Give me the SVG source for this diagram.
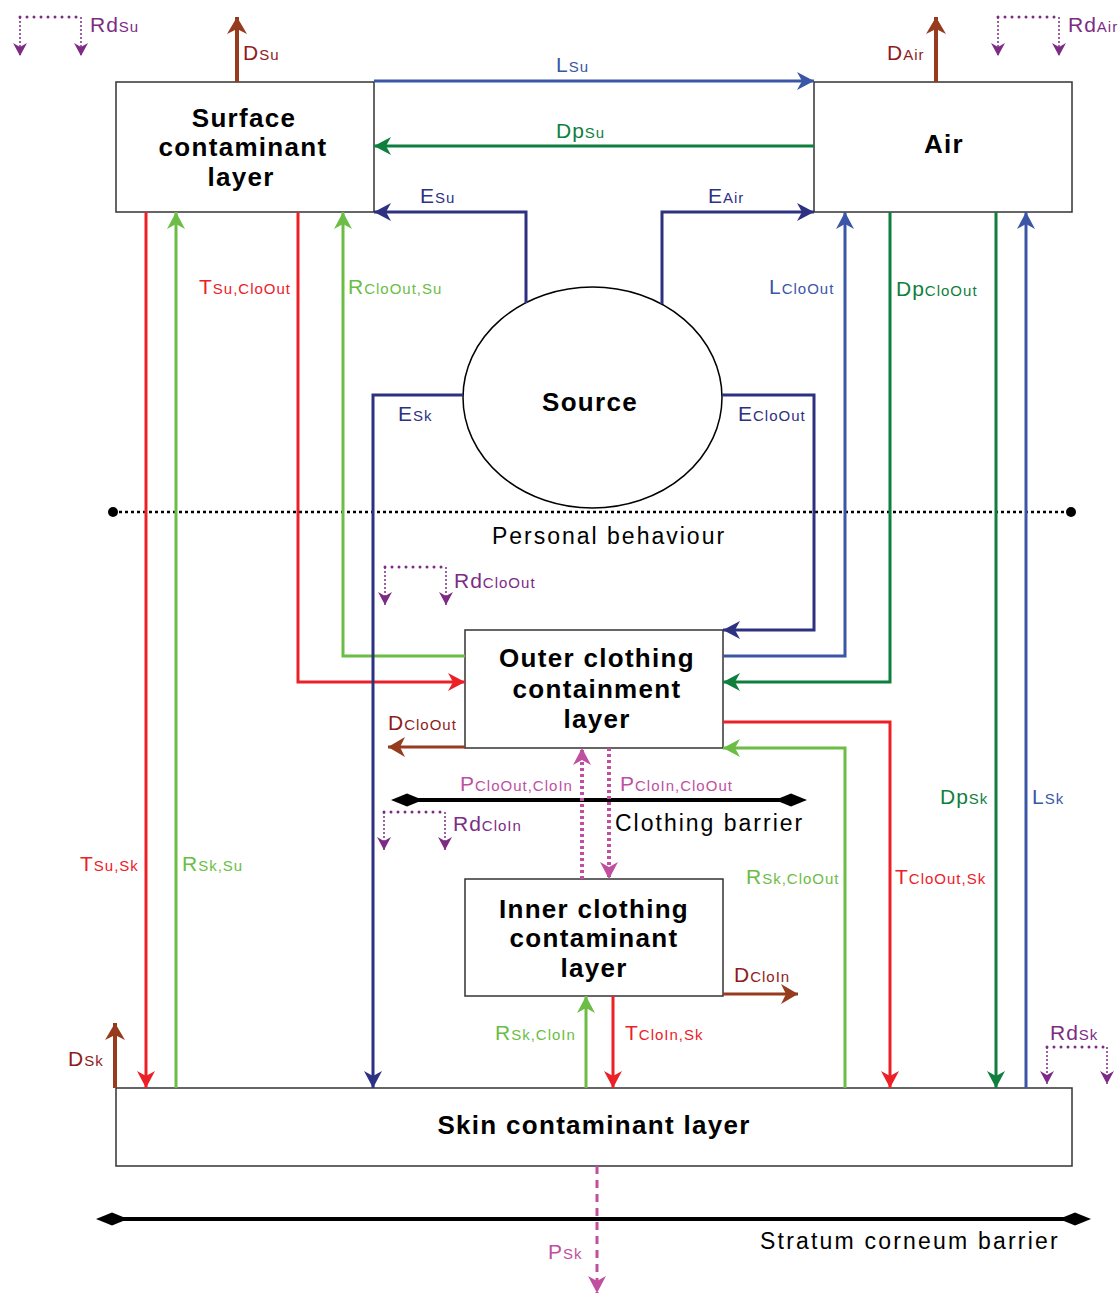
<svg xmlns="http://www.w3.org/2000/svg" width="1120" height="1295" viewBox="0 0 1120 1295">
<style>
.box{fill:#fff;stroke:#333;stroke-width:1.5}
.nt{font-family:"Liberation Sans",Arial,sans-serif;font-weight:bold;font-size:26px;letter-spacing:1.3px;fill:#000;text-anchor:middle}
.lb{font-family:"Liberation Sans",Arial,sans-serif;font-size:21px;letter-spacing:1px}
.lb tspan.s{font-size:15px}
.c{fill:none;stroke-width:3}
.navy{stroke:#2e3182}.blue{stroke:#3b56a6}.dg{stroke:#0f7f3d}.lg{stroke:#6bbd45}.red{stroke:#ec2027}.br{stroke:#963b1e;stroke-width:4}
.pk{stroke:#c0509f;stroke-width:4;stroke-dasharray:3 3}
.tnavy{fill:#2e3182}.tblue{fill:#3b56a6}.tdg{fill:#0f7f3d}.tlg{fill:#6bbd45}.tred{fill:#ec2027}.tbr{fill:#8e1c1c}.tpu{fill:#7d2b85}.tpk{fill:#c0509f}
.rdt{fill:none;stroke:#7d2b85;stroke-width:3;stroke-linecap:round;stroke-dasharray:0 7}
.rdv{fill:none;stroke:#7d2b85;stroke-width:1.5;stroke-dasharray:2 2}
.plain{font-family:"Liberation Sans",Arial,sans-serif;font-size:23px;fill:#000;letter-spacing:2px}
</style>
<defs>
<marker id="aN" viewBox="-18 -10 19 20" refX="0" refY="0" markerWidth="19" markerHeight="20" markerUnits="userSpaceOnUse" orient="auto"><path d="M0,0 L-17,-9 L-12,0 L-17,9 z" fill="#2e3182"/></marker>
<marker id="aB" viewBox="-18 -10 19 20" refX="0" refY="0" markerWidth="19" markerHeight="20" markerUnits="userSpaceOnUse" orient="auto"><path d="M0,0 L-17,-9 L-12,0 L-17,9 z" fill="#3b56a6"/></marker>
<marker id="aDG" viewBox="-18 -10 19 20" refX="0" refY="0" markerWidth="19" markerHeight="20" markerUnits="userSpaceOnUse" orient="auto"><path d="M0,0 L-17,-9 L-12,0 L-17,9 z" fill="#0f7f3d"/></marker>
<marker id="aLG" viewBox="-18 -10 19 20" refX="0" refY="0" markerWidth="19" markerHeight="20" markerUnits="userSpaceOnUse" orient="auto"><path d="M0,0 L-17,-9 L-12,0 L-17,9 z" fill="#6bbd45"/></marker>
<marker id="aR" viewBox="-18 -10 19 20" refX="0" refY="0" markerWidth="19" markerHeight="20" markerUnits="userSpaceOnUse" orient="auto"><path d="M0,0 L-17,-9 L-12,0 L-17,9 z" fill="#ec2027"/></marker>
<marker id="aBr" viewBox="-18 -11 19 22" refX="0" refY="0" markerWidth="19" markerHeight="22" markerUnits="userSpaceOnUse" orient="auto"><path d="M0,0 L-17,-10 L-12,0 L-17,10 z" fill="#963b1e"/></marker>
<marker id="aPk" viewBox="-18 -10 19 20" refX="0" refY="0" markerWidth="19" markerHeight="20" markerUnits="userSpaceOnUse" orient="auto"><path d="M0,0 L-17,-9 L-12,0 L-17,9 z" fill="#c0509f"/></marker>
<marker id="aPu" viewBox="-14 -8 15 16" refX="0" refY="0" markerWidth="15" markerHeight="16" markerUnits="userSpaceOnUse" orient="auto"><path d="M0,0 L-13,-7 L-9,0 L-13,7 z" fill="#7d2b85"/></marker>
<marker id="dia" viewBox="-17 -7 34 14" refX="0" refY="0" markerWidth="34" markerHeight="14" markerUnits="userSpaceOnUse" orient="auto"><path d="M-16,0 L0,-6.5 L16,0 L0,6.5 z" fill="#000"/></marker>
</defs>
<rect width="1120" height="1295" fill="#fff"/>

<g id="nodes">
<g id="surface"><rect class="box" x="116" y="82" width="258" height="130"/>
<text class="nt" x="244" y="127">Surface</text><text class="nt" x="243" y="156">contaminant</text><text class="nt" x="241" y="186">layer</text></g>
<g id="air"><rect class="box" x="814" y="82" width="258" height="130"/><text class="nt" x="944" y="153">Air</text></g>
<g id="source"><ellipse cx="592.5" cy="397.5" rx="129.5" ry="110.5" fill="#fff" stroke="#000" stroke-width="1.5"/><text class="nt" x="590" y="411">Source</text></g>
<g id="outer"><rect class="box" x="465" y="630" width="258" height="118"/>
<text class="nt" x="597" y="667">Outer clothing</text><text class="nt" x="597" y="698">containment</text><text class="nt" x="597" y="728">layer</text></g>
<g id="inner"><rect class="box" x="465" y="879" width="258" height="117"/>
<text class="nt" x="594" y="918">Inner clothing</text><text class="nt" x="594" y="947">contaminant</text><text class="nt" x="594" y="977">layer</text></g>
<g id="skin"><rect class="box" x="116" y="1088" width="956" height="78"/><text class="nt" x="594" y="1134">Skin contaminant layer</text></g>
</g>

<g id="barriers">
<line x1="113" y1="512" x2="1071" y2="512" stroke="#000" stroke-width="2.5" stroke-dasharray="3 3"/>
<circle cx="113" cy="512" r="5" fill="#000"/><circle cx="1071" cy="512" r="5" fill="#000"/>
<text class="plain" x="609" y="544" text-anchor="middle">Personal behaviour</text>
<line x1="407" y1="800" x2="791" y2="800" stroke="#000" stroke-width="4" marker-start="url(#dia)" marker-end="url(#dia)"/>
<text class="plain" x="615" y="831">Clothing barrier</text>
<line x1="112" y1="1219" x2="1075" y2="1219" stroke="#000" stroke-width="4" marker-start="url(#dia)" marker-end="url(#dia)"/>
<text class="plain" x="760" y="1249" style="letter-spacing:2.2px">Stratum corneum barrier</text>
</g>

<g id="connectors">
<path class="c blue" d="M374,81 H814" marker-end="url(#aB)"/>
<path class="c dg" d="M814,146 H374" marker-end="url(#aDG)"/>
<path class="c navy" d="M526,303 V212 H374" marker-end="url(#aN)"/>
<path class="c navy" d="M662,304 V212 H814" marker-end="url(#aN)"/>
<path class="c br" d="M237,82 V17" marker-end="url(#aBr)"/>
<path class="c br" d="M936,82 V17" marker-end="url(#aBr)"/>
<path class="c red" d="M146,212 V1088" marker-end="url(#aR)"/>
<path class="c lg" d="M176,1088 V212" marker-end="url(#aLG)"/>
<path class="c red" d="M298,212 V682 H465" marker-end="url(#aR)"/>
<path class="c lg" d="M465,656 H343 V212" marker-end="url(#aLG)"/>
<path class="c navy" d="M463,395 H373 V1088" marker-end="url(#aN)"/>
<path class="c navy" d="M722,395 H814 V630 H723" marker-end="url(#aN)"/>
<path class="c blue" d="M723,656 H845 V212" marker-end="url(#aB)"/>
<path class="c dg" d="M890,212 V682 H723" marker-end="url(#aDG)"/>
<path class="c red" d="M723,722 H890 V1088" marker-end="url(#aR)"/>
<path class="c lg" d="M845,1088 V748 H723" marker-end="url(#aLG)"/>
<path class="c dg" d="M996,212 V1088" marker-end="url(#aDG)"/>
<path class="c blue" d="M1026,1088 V212" marker-end="url(#aB)"/>
<path class="c br" d="M465,747 H388" style="stroke-width:3" marker-end="url(#aBr)"/>
<path class="c pk" d="M582,879 V748" marker-end="url(#aPk)"/>
<path class="c pk" d="M609,748 V879" marker-end="url(#aPk)"/>
<path class="c br" d="M723,994 H798" style="stroke-width:3" marker-end="url(#aBr)"/>
<path class="c lg" d="M586,1088 V996" marker-end="url(#aLG)"/>
<path class="c red" d="M613,996 V1088" marker-end="url(#aR)"/>
<path class="c br" d="M115,1088 V1023" marker-end="url(#aBr)"/>
<path class="c" d="M597,1166 V1293" style="stroke:#c0509f;stroke-width:3;stroke-dasharray:8 6" marker-end="url(#aPk)"/>
<path class="rdt" d="M20,17 H81"/><path class="rdv" d="M20,17 V56" marker-end="url(#aPu)"/><path class="rdv" d="M81,17 V56" marker-end="url(#aPu)"/>
<path class="rdt" d="M998,17 H1059"/><path class="rdv" d="M998,17 V56" marker-end="url(#aPu)"/><path class="rdv" d="M1059,17 V56" marker-end="url(#aPu)"/>
<path class="rdt" d="M385,567 H446"/><path class="rdv" d="M385,567 V605" marker-end="url(#aPu)"/><path class="rdv" d="M446,567 V605" marker-end="url(#aPu)"/>
<path class="rdt" d="M384,812 H445"/><path class="rdv" d="M384,812 V850" marker-end="url(#aPu)"/><path class="rdv" d="M445,812 V850" marker-end="url(#aPu)"/>
<path class="rdt" d="M1047,1047 H1107"/><path class="rdv" d="M1047,1047 V1084" marker-end="url(#aPu)"/><path class="rdv" d="M1107,1047 V1084" marker-end="url(#aPu)"/>
</g>

<g id="labels">
<text class="lb tpu" x="90" y="32">Rd<tspan class="s">Su</tspan></text>
<text class="lb tpu" x="1068" y="32">Rd<tspan class="s">Air</tspan></text>
<text class="lb tbr" x="243" y="60">D<tspan class="s">Su</tspan></text>
<text class="lb tbr" x="887" y="60">D<tspan class="s">Air</tspan></text>
<text class="lb tblue" x="556" y="72">L<tspan class="s">Su</tspan></text>
<text class="lb tdg" x="556" y="138">Dp<tspan class="s">Su</tspan></text>
<text class="lb tnavy" x="420" y="203">E<tspan class="s">Su</tspan></text>
<text class="lb tnavy" x="708" y="203">E<tspan class="s">Air</tspan></text>
<text class="lb tred" x="199" y="294">T<tspan class="s">Su,CloOut</tspan></text>
<text class="lb tlg" x="348" y="294">R<tspan class="s">CloOut,Su</tspan></text>
<text class="lb tblue" x="769" y="294">L<tspan class="s">CloOut</tspan></text>
<text class="lb tdg" x="896" y="296">Dp<tspan class="s">CloOut</tspan></text>
<text class="lb tnavy" x="398" y="421">E<tspan class="s">Sk</tspan></text>
<text class="lb tnavy" x="738" y="421">E<tspan class="s">CloOut</tspan></text>
<text class="lb tpu" x="454" y="588">Rd<tspan class="s">CloOut</tspan></text>
<text class="lb tbr" x="388" y="730">D<tspan class="s">CloOut</tspan></text>
<text class="lb tpk" x="460" y="791">P<tspan class="s">CloOut,CloIn</tspan></text>
<text class="lb tpk" x="620" y="791">P<tspan class="s">CloIn,CloOut</tspan></text>
<text class="lb tpu" x="453" y="831">Rd<tspan class="s">CloIn</tspan></text>
<text class="lb tdg" x="940" y="804">Dp<tspan class="s">Sk</tspan></text>
<text class="lb tblue" x="1032" y="804">L<tspan class="s">Sk</tspan></text>
<text class="lb tred" x="80" y="871">T<tspan class="s">Su,Sk</tspan></text>
<text class="lb tlg" x="182" y="871">R<tspan class="s">Sk,Su</tspan></text>
<text class="lb tlg" x="746" y="884">R<tspan class="s">Sk,CloOut</tspan></text>
<text class="lb tred" x="895" y="884">T<tspan class="s">CloOut,Sk</tspan></text>
<text class="lb tbr" x="734" y="982">D<tspan class="s">CloIn</tspan></text>
<text class="lb tlg" x="495" y="1040">R<tspan class="s">Sk,CloIn</tspan></text>
<text class="lb tred" x="625" y="1040">T<tspan class="s">CloIn,Sk</tspan></text>
<text class="lb tbr" x="68" y="1066">D<tspan class="s">Sk</tspan></text>
<text class="lb tpu" x="1050" y="1040">Rd<tspan class="s">Sk</tspan></text>
<text class="lb tpk" x="548" y="1259">P<tspan class="s">Sk</tspan></text>
</g>
</svg>
